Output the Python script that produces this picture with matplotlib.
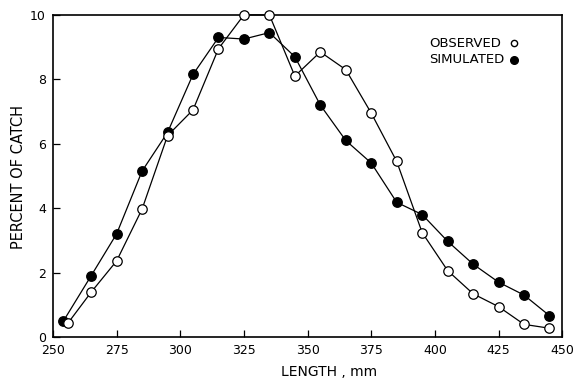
"""Percent of catch by length: observed vs simulated."""

import matplotlib
matplotlib.use("Agg")
import matplotlib.pyplot as plt

# length classes (mm); first points are drawn slightly apart in the source
obs_length = [256, 265, 275, 285, 295, 305, 315, 325, 335, 345,
              355, 365, 375, 385, 395, 405, 415, 425, 435, 445]
obs_pct = [0.44, 1.39, 2.36, 3.97, 6.25, 7.05, 8.95, 10.0, 10.0, 8.1,
           8.85, 8.3, 6.95, 5.45, 3.24, 2.06, 1.34, 0.94, 0.39, 0.27]

sim_length = [254, 265, 275, 285, 295, 305, 315, 325, 335, 345,
              355, 365, 375, 385, 395, 405, 415, 425, 435, 445]
sim_pct = [0.48, 1.9, 3.2, 5.15, 6.35, 8.15, 9.3, 9.25, 9.45, 8.7,
           7.2, 6.1, 5.4, 4.18, 3.8, 2.97, 2.26, 1.7, 1.3, 0.66]

x_ticks = [250, 275, 300, 325, 350, 375, 400, 425, 450]
y_ticks = [0, 2, 4, 6, 8, 10]

plt.rcParams["font.family"] = "DejaVu Sans"

fig = plt.figure(figsize=(5.82, 3.82), dpi=100)
ax = fig.add_axes([0.091, 0.118, 0.875, 0.843])

ax.plot(sim_length, sim_pct, color="black", linewidth=0.9, marker="o",
        markersize=6.8, markerfacecolor="black", markeredgecolor="black",
        clip_on=False, zorder=3)
ax.plot(obs_length, obs_pct, color="black", linewidth=0.9, marker="o",
        markersize=6.8, markerfacecolor="white", markeredgecolor="black",
        markeredgewidth=0.9, clip_on=False, zorder=4)

ax.set_xlim(250, 450)
ax.set_ylim(0, 10)
ax.set_xticks(x_ticks)
ax.set_yticks(y_ticks)
ax.tick_params(direction="in", length=5, width=0.9, labelsize=9,
               top=False, right=False, pad=5)
for s in ax.spines.values():
    s.set_linewidth(1.2)

ax.set_xlabel("LENGTH , mm", fontsize=10)
ax.xaxis.set_label_coords(0.542, -0.088)
ax.set_ylabel("PERCENT OF CATCH", fontsize=10.5)
ax.yaxis.set_label_coords(-0.052, 0.497)

# key, drawn as text with a symbol after it
ax.text(0.739, 0.910, "OBSERVED", transform=ax.transAxes, fontsize=9.5,
        ha="left", va="center")
ax.text(0.739, 0.860, "SIMULATED", transform=ax.transAxes, fontsize=9.5,
        ha="left", va="center")
ax.plot([0.906], [0.912], transform=ax.transAxes, linestyle="none",
        marker="o", markersize=4.5, markerfacecolor="white",
        markeredgecolor="black", markeredgewidth=1.0)
ax.plot([0.906], [0.860], transform=ax.transAxes, linestyle="none",
        marker="o", markersize=5.5, markerfacecolor="black",
        markeredgecolor="black")

fig.savefig("out.png", dpi=100)
